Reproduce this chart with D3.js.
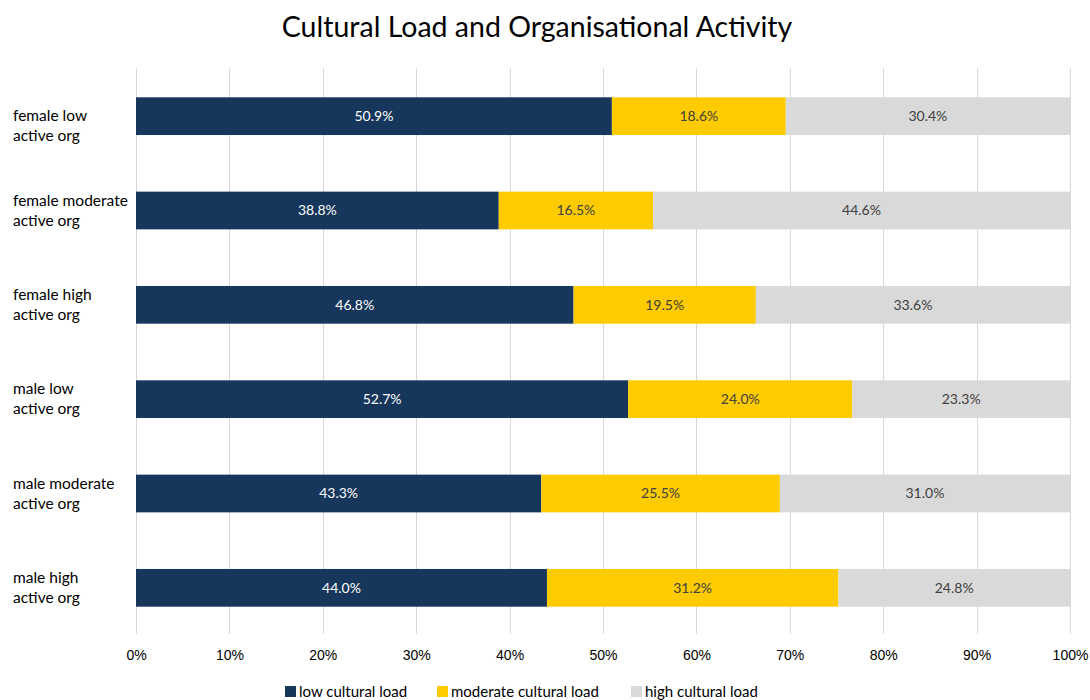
<!DOCTYPE html>
<meta charset="utf-8">
<style>
body { margin: 0; background: #fff; font-family: Lato, "Open Sans", sans-serif; }
.grid line { stroke: #d9d9d9; stroke-width: 1; shape-rendering: crispEdges; }
.x.axis path, .x.axis line { display: none; }
.x.axis text { font-size: 14px; fill: #000; }
.cat { font-size: 15.5px; fill: #000; }
.lbl { font-size: 14px; text-anchor: middle; }
.legend text { font-size: 15px; fill: #000; }
</style>
<body>
<script src="https://d3js.org/d3.v7.min.js"></script>
<script>

var categories = [
  "female low active org", "female moderate active org", "female high active org",
  "male low active org", "male moderate active org", "male high active org"
];
var labelLines = [
  ["female low", "active org"], ["female moderate", "active org"], ["female high", "active org"],
  ["male low", "active org"], ["male moderate", "active org"], ["male high", "active org"]
];
var seriesNames = ["low cultural load", "moderate cultural load", "high cultural load"];
var lowLoad = [50.9, 38.8, 46.8, 52.7, 43.3, 44.0];
var moderateLoad = [18.6, 16.5, 19.5, 24.0, 25.5, 31.2];
var highLoad = [30.4, 44.6, 33.6, 23.3, 31.0, 24.8];
var tickValues = [0, 0.1, 0.2, 0.3, 0.4, 0.5, 0.6, 0.7, 0.8, 0.9, 1];

var colors = ["#16365c", "#fdcb00", "#d9d9d9"];
var labelColors = ["#ffffff", "#404040", "#404040"];

var width = 1090, height = 700;
var margin = {top: 68, right: 20, bottom: 66, left: 136};
var plotW = 1070 - margin.left;
var plotH = 634 - margin.top;

// table for d3.stack
var table = categories.map(function(c, i) {
  return {cat: c, "low cultural load": lowLoad[i], "moderate cultural load": moderateLoad[i], "high cultural load": highLoad[i]};
});

var stack = d3.stack().keys(seriesNames).offset(d3.stackOffsetExpand);
var layers = stack(table);

var x = d3.scaleLinear().domain([0, 1]).range([0, plotW]);
var y = d3.scaleBand().domain(categories).range([0, plotH]).paddingInner(0.6).paddingOuter(0.3);

var svg = d3.select("body").append("svg")
    .attr("width", width)
    .attr("height", height);

svg.append("text")
    .attr("x", 537)
    .attr("y", 37)
    .attr("text-anchor", "middle")
    .style("font-size", "28.5px")
    .style("fill", "#000")
    .text("Cultural Load and Organisational Activity");

var g = svg.append("g").attr("transform", "translate(" + margin.left + "," + margin.top + ")");

// vertical gridlines
g.append("g").attr("class", "grid")
  .selectAll("line")
  .data(tickValues)
  .enter().append("line")
    .attr("x1", function(d) { return Math.round(x(d)) + 0.5; })
    .attr("x2", function(d) { return Math.round(x(d)) + 0.5; })
    .attr("y1", 0)
    .attr("y2", plotH);

// bars
var layer = g.selectAll(".layer")
    .data(layers)
  .enter().append("g")
    .attr("class", "layer")
    .style("fill", function(d, i) { return colors[i]; });

layer.selectAll("rect")
    .data(function(d) { return d; })
  .enter().append("rect")
    .attr("x", function(d) { return x(d[0]); })
    .attr("y", function(d) { return y(d.data.cat) + 1; })
    .attr("width", function(d) { return x(d[1]) - x(d[0]); })
    .attr("height", y.bandwidth());

// data labels
layers.forEach(function(l, si) {
  g.selectAll(".lbl" + si)
      .data(l)
    .enter().append("text")
      .attr("class", "lbl")
      .attr("x", function(d) { return (x(d[0]) + x(d[1])) / 2; })
      .attr("y", function(d) { return y(d.data.cat) + 1 + y.bandwidth() / 2; })
      .attr("dy", "0.35em")
      .style("fill", labelColors[si])
      .text(function(d) { return d.data[seriesNames[si]].toFixed(1) + "%"; });
});

// category labels (first one sits a little lower, like the original)
var cat = svg.selectAll(".cat")
    .data(categories)
  .enter().append("text")
    .attr("class", "cat")
    .attr("y", function(d, i) { return margin.top + y(d) + y.bandwidth() / 2 + (i === 0 ? 10 : 0); });

cat.selectAll("tspan")
    .data(function(d, i) { return labelLines[i]; })
  .enter().append("tspan")
    .attr("x", 13)
    .attr("dy", function(d, i) { return i === 0 ? "-0.25em" : "1.3em"; })
    .text(function(d) { return d; });

// x axis
svg.append("g")
    .attr("class", "x axis")
    .attr("transform", "translate(" + margin.left + "," + (margin.top + plotH) + ")")
    .call(d3.axisBottom(x).tickValues(tickValues).tickFormat(d3.format(".0%")).tickSize(0).tickPadding(16));

// legend
var legendX = [285, 437, 631];
var legend = svg.selectAll(".legend")
    .data(seriesNames)
  .enter().append("g")
    .attr("class", "legend")
    .attr("transform", function(d, i) { return "translate(" + legendX[i] + ",686)"; });

legend.append("rect")
    .attr("width", 11)
    .attr("height", 11)
    .style("fill", function(d, i) { return colors[i]; });

legend.append("text")
    .attr("x", 14)
    .attr("y", 6)
    .attr("dy", "0.35em")
    .text(function(d) { return d; });

</script>
</body>
